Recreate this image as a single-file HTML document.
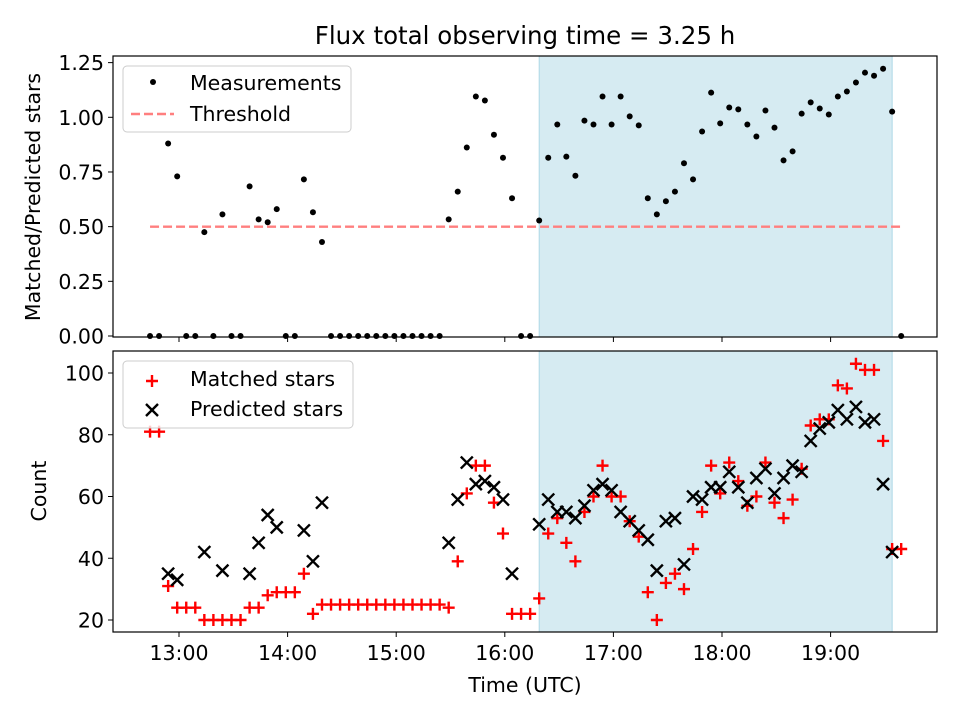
<!DOCTYPE html>
<html><head><meta charset="utf-8">
<style>
html,body{margin:0;padding:0;background:#fff;}
svg{display:block;font-family:"DejaVu Sans","Liberation Sans",sans-serif;}
</style></head>
<body>
<svg id="chart" width="960" height="720" viewBox="0 0 960 720" xmlns="http://www.w3.org/2000/svg">
<text x="525" y="44" font-size="24.5" text-anchor="middle">Flux total observing time = 3.25 h</text>
<g id="top"></g>
<g id="bot"></g>
</svg>
<script>
const times = ["12:44","12:49","12:54","12:59","13:04","13:09","13:14","13:19","13:24","13:29","13:34","13:39","13:44","13:49","13:54","13:59","14:04","14:09","14:14","14:19","14:24","14:29","14:34","14:39","14:44","14:49","14:54","14:59","15:04","15:09","15:14","15:19","15:24","15:29","15:34","15:39","15:44","15:49","15:54","15:59","16:04","16:09","16:14","16:19","16:24","16:29","16:34","16:39","16:44","16:49","16:54","16:59","17:04","17:09","17:14","17:19","17:24","17:29","17:34","17:39","17:44","17:49","17:54","17:59","18:04","18:09","18:14","18:19","18:24","18:29","18:34","18:39","18:44","18:49","18:54","18:59","19:04","19:09","19:14","19:19","19:24","19:29","19:34","19:39"];
const matched = [81,81,31,24,24,24,20,20,20,20,20,24,24,28,29,29,29,35,22,25,25,25,25,25,25,25,25,25,25,25,25,25,25,24,39,61,70,70,58,48,22,22,22,27,48,53,45,39,55,60,70,60,60,52,47,29,20,32,35,30,43,55,70,61,71,65,57,60,71,58,53,59,69,83,85,85,96,95,103,101,101,78,43,43];
const predicted = [null,null,35,33,null,null,42,null,36,null,null,35,45,54,50,null,null,49,39,58,null,null,null,null,null,null,null,null,null,null,null,null,null,45,59,71,64,65,63,59,35,null,null,51,59,55,55,53,57,62,64,62,55,52,49,46,36,52,53,38,60,59,63,63,68,63,58,66,69,61,66,70,68,78,82,84,88,85,89,84,85,64,42,null];
const ratio = [0,0,0.88,0.73,0,0,0.475,0,0.556,0,0,0.684,0.533,0.52,0.58,0,0,0.716,0.566,0.43,0,0,0,0,0,0,0,0,0,0,0,0,0,0.533,0.66,0.862,1.095,1.077,0.92,0.815,0.63,0,0,0.528,0.815,0.967,0.82,0.733,0.985,0.967,1.095,0.967,1.095,1.004,0.963,0.63,0.556,0.616,0.66,0.79,0.716,0.935,1.113,0.972,1.045,1.036,0.967,0.912,1.031,0.953,0.803,0.844,1.017,1.068,1.04,1.013,1.095,1.118,1.159,1.204,1.19,1.222,1.026,0];
const threshold = 0.5;
const shadeSpan = ["16:19","19:34"];
const xTicks = ["13:00","14:00","15:00","16:00","17:00","18:00","19:00"];
const yTicksTop = [0,0.25,0.5,0.75,1.0,1.25];
const yTicksBot = [20,40,60,80,100];

const NS="http://www.w3.org/2000/svg";
const FS=20.5;
const L=113,R=937;
function hrs(s){const p=s.split(":");return +p[0]+ +p[1]/60;}
function xs(s){return 179+(hrs(s)-13)*108.6;}
const T={top:56,bot:337,y:v=>336-v*218.7};
const B={top:351,bot:632,y:v=>620-(v-20)*3.0875};
function el(tag,attrs,parent){const e=document.createElementNS(NS,tag);for(const k in attrs)e.setAttribute(k,attrs[k]);parent.appendChild(e);return e;}

function frame(g,P,ticks,fmt,showX){
  const sh=el('rect',{x:xs(shadeSpan[0]),y:P.top,width:xs(shadeSpan[1])-xs(shadeSpan[0]),height:P.bot-P.top,fill:'#add8e6','fill-opacity':0.5,stroke:'#add8e6'},g);
  
  
  ticks.forEach(v=>{
    const y=P.y(v);
    el('line',{x1:L-5,x2:L,y1:y,y2:y,stroke:'#000','stroke-width':1},g);
    const t=el('text',{x:L-9,y:y+7.5,'font-size':FS,'text-anchor':'end'},g);
    t.textContent=fmt(v);
    
    
  });
  xTicks.forEach(s=>{
    const x=xs(s);
    el('line',{x1:x,x2:x,y1:P.bot,y2:P.bot+5,stroke:'#000','stroke-width':1},g);
    if(showX){const t=el('text',{x:x,y:P.bot+28,'font-size':FS,'text-anchor':'middle'},g);t.textContent=s;
      
      }
  });
}
function border(g,P){el('rect',{x:L,y:P.top,width:R-L,height:P.bot-P.top,fill:'none',stroke:'#000','stroke-width':1.2},g);}

const gt=document.getElementById('top');
frame(gt,T,yTicksTop,v=>v.toFixed(2),false);
const th=el('line',{x1:xs(times[0]),x2:xs(times[times.length-1]),y1:T.y(threshold),y2:T.y(threshold),stroke:'#ff7f7f','stroke-width':2.4,'stroke-dasharray':'9,4'},gt);


ratio.forEach((v,i)=>{const c=el('circle',{cx:xs(times[i]),cy:T.y(v),r:3,fill:'#000'},gt);
  
  });
border(gt,T);
const yl1=el('text',{x:0,y:0,'font-size':FS,'text-anchor':'middle',transform:'translate(40,197) rotate(-90)'},gt);
yl1.textContent='Matched/Predicted stars';


const lg1=el('g',{},gt);


el('rect',{x:123,y:66,width:228,height:66,rx:4,fill:'#fff','fill-opacity':0.8,stroke:'#ccc'},lg1);
el('circle',{cx:153,cy:82,r:3,fill:'#000'},lg1);
let t=el('text',{x:190,y:90,'font-size':FS},lg1);t.textContent='Measurements';
el('line',{x1:131,x2:174,y1:114,y2:114,stroke:'#ff7f7f','stroke-width':2.4,'stroke-dasharray':'9,4'},lg1);
t=el('text',{x:190,y:121,'font-size':FS},lg1);t.textContent='Threshold';

const gb=document.getElementById('bot');
frame(gb,B,yTicksBot,v=>String(v),true);
function plus(g,x,y){return el('path',{d:`M${x-6},${y}H${x+6}M${x},${y-6}V${y+6}`,stroke:'#f00','stroke-width':2.4,fill:'none'},g);}
function cross(g,x,y){return el('path',{d:`M${x-6},${y-6}L${x+6},${y+6}M${x-6},${y+6}L${x+6},${y-6}`,stroke:'#000','stroke-width':2.4,fill:'none'},g);}
matched.forEach((v,i)=>{const p=plus(gb,xs(times[i]),B.y(v));
  
  });
predicted.forEach((v,i)=>{if(v===null)return;const p=cross(gb,xs(times[i]),B.y(v));
  
  });
border(gb,B);
const yl2=el('text',{x:0,y:0,'font-size':FS,'text-anchor':'middle',transform:'translate(46,491) rotate(-90)'},gb);
yl2.textContent='Count';


const xl=el('text',{x:525,y:692,'font-size':FS,'text-anchor':'middle'},gb);
xl.textContent='Time (UTC)';


const lg2=el('g',{},gb);


el('rect',{x:123,y:361,width:230,height:67,rx:4,fill:'#fff','fill-opacity':0.8,stroke:'#ccc'},lg2);
plus(lg2,152,381);
t=el('text',{x:190,y:386,'font-size':FS},lg2);t.textContent='Matched stars';
cross(lg2,152,410);
t=el('text',{x:190,y:416,'font-size':FS},lg2);t.textContent='Predicted stars';
</script>
</body></html>
